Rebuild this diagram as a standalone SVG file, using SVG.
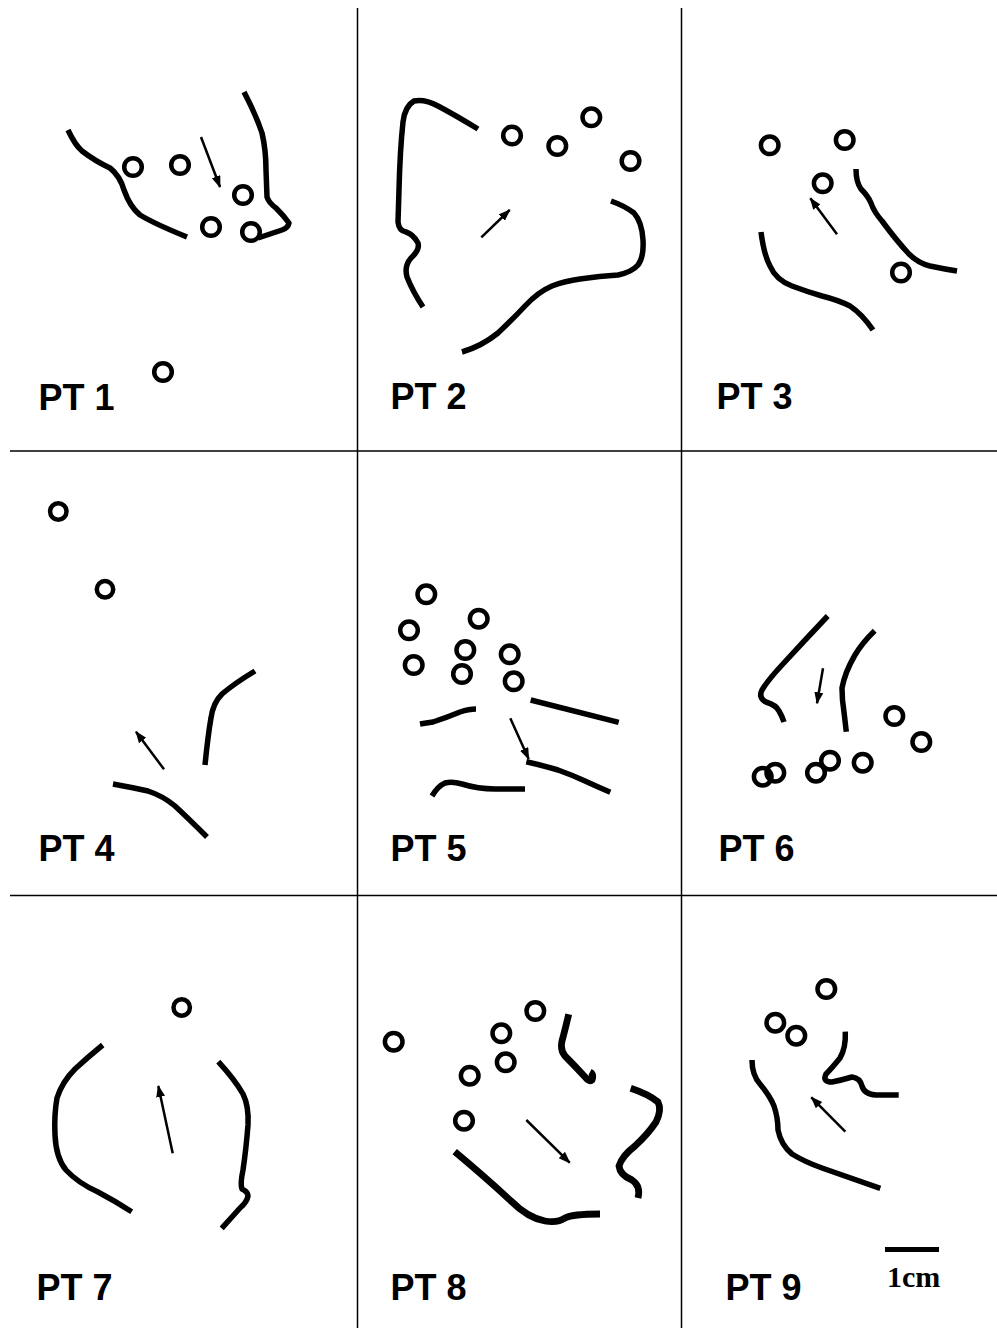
<svg xmlns="http://www.w3.org/2000/svg" width="997" height="1328" viewBox="0 0 997 1328">
<style>
.c{fill:none;stroke:#000;stroke-width:5.5;stroke-linecap:butt;stroke-linejoin:round}
.ct{fill:none;stroke:#000;stroke-width:6.8;stroke-linecap:butt;stroke-linejoin:round}
.o{fill:none;stroke:#000;stroke-width:4.5}
.a{fill:none;stroke:#000;stroke-width:2.5;marker-end:url(#ah)}
.g{stroke:#000;stroke-width:1.5}
.lbl{font-family:"Liberation Sans",Arial,sans-serif;font-weight:bold;font-size:36px;fill:#000}
</style>
<defs>
<marker id="ah" markerUnits="userSpaceOnUse" markerWidth="14" markerHeight="10" refX="11" refY="4.5" orient="auto">
<path d="M0,0 L12,4.5 L0,9 z" fill="#000"/>
</marker>
</defs>
<rect width="997" height="1328" fill="#fff"/>
<g id="grid">
<line class="g" x1="357.5" y1="8" x2="357.5" y2="1328"/>
<line class="g" x1="681.5" y1="8" x2="681.5" y2="1328"/>
<line class="g" x1="10" y1="451" x2="997" y2="451"/>
<line class="g" x1="10" y1="895.5" x2="997" y2="895.5"/>
</g>
<g id="pt1">
<path class="c" d="M68,130 Q75,145 82,151 Q95,161 110,168 Q120,176 124,190 Q130,207 140,215 Q155,224 187,237"/>
<path class="c" d="M244,92 Q256,115 262,133 Q266,150 266,170 L267,197 Q269,203 276,208 Q284,216 289,223 Q288,228 282,230 L258,238"/>
<circle class="o" cx="133" cy="167" r="8.8"/>
<circle class="o" cx="180" cy="165" r="8.8"/>
<circle class="o" cx="243" cy="195" r="8.8"/>
<circle class="o" cx="211" cy="227" r="8.8"/>
<circle class="o" cx="251" cy="232" r="8.8"/>
<circle class="o" cx="163" cy="372" r="8.8"/>
<line class="a" x1="201" y1="137" x2="220" y2="187"/>
<text class="lbl" x="38.5" y="410">PT 1</text>
</g>
<g id="pt2">
<path class="c" d="M478,129 Q455,115 438,106 Q425,99 414,101 Q405,106 403,122 Q400,150 399,190 L398,222 Q399,231 406,232 Q413,234 418,243 Q420,250 411,258 Q404,266 407,277 Q413,292 423,307"/>
<path class="c" d="M462,352 Q482,346 498,333 Q512,320 525,306 Q538,292 552,286 Q565,281 580,279 Q600,276 618,275 Q632,272 638,265 Q644,257 643,240 Q642,222 634,213 Q625,206 611,201"/>
<circle class="o" cx="512" cy="135.5" r="8.8"/>
<circle class="o" cx="557.3" cy="146" r="8.8"/>
<circle class="o" cx="591.3" cy="117.3" r="8.8"/>
<circle class="o" cx="630.5" cy="161" r="8.8"/>
<line class="a" x1="481.3" y1="237.3" x2="509.7" y2="210"/>
<text class="lbl" x="390.5" y="409">PT 2</text>
</g>
<g id="pt3">
<path class="c" d="M856,169 Q856,182 861,189 Q868,196 871,203 Q874,212 882,221 Q896,240 909,254 Q918,263 930,266 Q944,269 957,271"/>
<path class="c" d="M761,232 Q764,255 770,266 Q776,280 792,286 Q808,292 822,296 Q838,300 850,306 Q862,314 873,330"/>
<circle class="o" cx="769.7" cy="145.3" r="8.8"/>
<circle class="o" cx="844.7" cy="140" r="8.8"/>
<circle class="o" cx="822.7" cy="183.3" r="8.8"/>
<circle class="o" cx="901" cy="272.5" r="8.8"/>
<line class="a" x1="837" y1="234.3" x2="810.3" y2="198.3"/>
<text class="lbl" x="716.5" y="409">PT 3</text>
</g>
<g id="pt4">
<path class="c" d="M255,671 Q235,683 222,694 Q213,703 211,718 Q208,735 205,765"/>
<path class="c" d="M113,784 Q135,788 148,791 Q163,796 175,806 Q190,820 207,837"/>
<circle class="o" cx="58.3" cy="511.5" r="8.2"/>
<circle class="o" cx="105" cy="589.3" r="8.2"/>
<line class="a" x1="164" y1="769.3" x2="136" y2="731.7"/>
<text class="lbl" x="38.5" y="861">PT 4</text>
</g>
<g id="pt5">
<path class="c" d="M420,724 Q426,723 433,722 Q448,717 460,712 Q469,709 476,709"/>
<path class="c" d="M530.7,700 L618.7,722.3"/>
<path class="c" d="M526.3,761.7 Q545,766 558,770 Q572,775 585,781 Q598,787 610.3,792.3"/>
<path class="c" d="M432,796 Q438,786 445,783 Q452,781 462,784 Q478,789 495,789 L525,789"/>
<circle class="o" cx="426.3" cy="594.3" r="8.8"/>
<circle class="o" cx="409" cy="630.3" r="8.8"/>
<circle class="o" cx="478.7" cy="618.7" r="8.8"/>
<circle class="o" cx="465.3" cy="650" r="8.8"/>
<circle class="o" cx="509.7" cy="654.3" r="8.8"/>
<circle class="o" cx="413.7" cy="665" r="8.8"/>
<circle class="o" cx="462" cy="674" r="8.8"/>
<circle class="o" cx="513.7" cy="681.3" r="8.8"/>
<line class="a" x1="510.3" y1="718.3" x2="528.7" y2="759"/>
<text class="lbl" x="390.5" y="861">PT 5</text>
</g>
<g id="pt6">
<path class="c" d="M827.7,616 Q805,640 782,665 Q768,680 762,690 Q758,698 766,702 Q776,705 779,711 Q782,716 784,722"/>
<path class="c" d="M874.7,630.7 Q862,643 855,655 Q845,672 842,688 Q842,700 844,712 L846.3,731.7"/>
<circle class="o" cx="762.7" cy="776.7" r="8.8"/>
<circle class="o" cx="775.3" cy="772.7" r="8.8"/>
<circle class="o" cx="816" cy="772.7" r="8.8"/>
<circle class="o" cx="830" cy="760.7" r="8.8"/>
<circle class="o" cx="862.7" cy="762.7" r="8.8"/>
<circle class="o" cx="894.3" cy="716" r="8.8"/>
<circle class="o" cx="921.3" cy="742" r="8.8"/>
<line class="a" x1="823" y1="668.3" x2="817" y2="703.3"/>
<text class="lbl" x="718.5" y="861">PT 6</text>
</g>
<g id="pt7">
<path class="c" d="M102.7,1045 Q88,1057 75,1069 Q62,1082 57,1098 Q54,1115 55,1135 Q56,1158 66,1170 Q78,1183 98,1192 Q115,1201 131.7,1211.7"/>
<path class="c" d="M218.3,1061.7 Q235,1080 243,1094 Q249,1106 248,1125 Q246,1150 243,1170 Q240,1184 242,1189 Q248,1192 248,1196 Q247,1202 240,1208 L221.7,1228.3"/>
<circle class="o" cx="181.7" cy="1007.5" r="8.2"/>
<line class="a" x1="172.7" y1="1153.3" x2="158.3" y2="1086"/>
<text class="lbl" x="36.5" y="1300">PT 7</text>
</g>
<g id="pt8">
<path class="ct" d="M568.7,1014.3 Q565,1030 562,1041 Q560,1050 565,1056 Q575,1066 586,1078 Q590,1082 592,1080 Q594,1074 590,1072"/>
<path class="ct" d="M630.7,1088.3 Q648,1094 658,1102 Q662,1110 656,1122 Q648,1134 635,1146 Q622,1156 619,1166 Q620,1175 632,1180 Q641,1186 638,1198"/>
<path class="ct" d="M454.7,1151.7 Q485,1177 511,1201 Q528,1218 545,1221 Q558,1223 565,1218 Q572,1214 600,1214"/>
<circle class="o" cx="393.7" cy="1041.7" r="8.8"/>
<circle class="o" cx="501.3" cy="1033.3" r="8.8"/>
<circle class="o" cx="535.3" cy="1011" r="8.8"/>
<circle class="o" cx="505.7" cy="1062.3" r="8.8"/>
<circle class="o" cx="469.7" cy="1075.7" r="8.8"/>
<circle class="o" cx="464" cy="1120.7" r="8.8"/>
<line class="a" x1="526.3" y1="1120" x2="569.7" y2="1162.7"/>
<text class="lbl" x="390.5" y="1300">PT 8</text>
</g>
<g id="pt9">
<path class="c" d="M845.3,1031.7 Q846,1048 840,1058 Q832,1068 826,1074 Q822,1082 832,1082 Q842,1080 852,1077 Q860,1078 862,1086 Q864,1094 876,1095 L898.7,1095"/>
<path class="c" d="M752,1060 Q752,1075 760,1084 Q770,1096 774,1106 Q778,1118 778,1130 Q781,1145 792,1154 Q805,1162 822,1168 L880.3,1188.3"/>
<circle class="o" cx="826.3" cy="989" r="8.8"/>
<circle class="o" cx="775.3" cy="1022.7" r="8.8"/>
<circle class="o" cx="796.3" cy="1035.7" r="8.8"/>
<line class="a" x1="845.3" y1="1131.7" x2="811.3" y2="1097.3"/>
<text class="lbl" x="725.5" y="1300">PT 9</text>
</g>
<g id="scale">
<line x1="885" y1="1249.5" x2="939" y2="1249.5" stroke="#000" stroke-width="5"/>
<text x="887" y="1287" font-family="'Liberation Serif','Times New Roman',serif" font-weight="bold" font-size="30">1cm</text>
</g>
</svg>
